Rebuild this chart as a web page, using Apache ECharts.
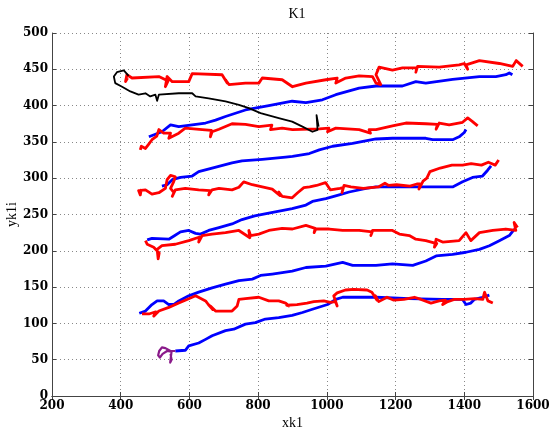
<!DOCTYPE html>
<html><head><meta charset="utf-8">
<script src="https://cdn.jsdelivr.net/npm/echarts@6/dist/echarts.min.js"></script>
<style>html,body{margin:0;padding:0;background:#fff}#c{width:549px;height:433px}</style>
</head><body><div id="c"></div>
<script>
// Axis ticks
const xTicks = [200,400,600,800,1000,1200,1400,1600];
const yTicks = [0,50,100,150,200,250,300,350,400,450,500];

// Blue passes (left to right)
const blue1 = [[559,62],[588,63],[598,69],[627,73],[647,78],[666,83],[705,90],[729,92],[763,99],[792,101],[821,106],[860,108],[899,111],[929,115],[958,119.5],[1002,126],[1026,133],[1046,136],[1143,136],[1240,134],[1337,133],[1395,133],[1405,126],[1419,128],[1429,133],[1453,136],[1473,139]];
const blue2 = [[454,114],[472,117],[491,126],[506,131],[525,131],[540,126],[554,126],[569,131],[598,138],[627,143],[666,149],[705,154],[744,159],[783,161],[807,166],[841,168],[899,172],[939,177],[997,179],[1046,184],[1075,180],[1143,180],[1191,182],[1250,180],[1288,186],[1318,193],[1366,195],[1405,198],[1444,202],[1473,207],[1502,214],[1531,221],[1546,230]];
const blue3 = [[477,215],[491,217],[540,216],[554,220],[574,226],[598,228],[618,224],[632,223],[656,228],[686,232],[724,237],[753,243],[790,248],[831,252],[899,258],[939,263],[958,268],[997,272],[1036,277],[1065,281],[1114,286],[1143,288],[1191,288],[1269,288],[1366,288],[1395,295],[1424,301],[1453,303],[1468,311],[1478,317]];
const blue4 = [[520,289],[535,291],[550,298],[574,301],[608,303],[627,309],[666,314],[724,321],[753,324],[812,326],[880,329],[900,330],[949,334],[978,339],[1017,344],[1075,348],[1143,354],[1191,355],[1288,355],[1308,353],[1366,353],[1385,357],[1400,363],[1405,367]];
const blue5 = [[482,357],[520,364],[545,373.5],[569,371],[608,373.5],[647,376],[676,380],[705,385],[763,394],[831,400],[899,406],[939,404],[987,408],[1026,415],[1094,424],[1143,427],[1220,427],[1259,433],[1288,431],[1366,436],[1444,440],[1492,440],[1521,442.5],[1531,445],[1540,442.5]];

// Red passes (right to left)
const red5 = [[1483,128],[1469,131],[1459,143],[1454,133],[1430,134],[1400,133],[1371,133],[1352,130],[1337,126],[1345,132],[1327,131],[1303,128],[1274,133],[1255,136],[1224,133],[1195,132],[1175,136],[1151,130],[1141,138],[1146,132],[1131,143],[1117,146],[1078,147],[1054,146],[1030,142],[1020,138],[1030,124],[1025,130],[1010,129],[991,131],[962,130],[942,128],[913,126],[883,125],[889,124],[880,128],[860,131],[831,131],[802,136],[763,134],[744,133],[739,124],[724,117],[676,117],[661,124],[668,119],[655,126],[647,131],[618,138],[598,134],[569,128],[540,122],[511,117],[496,110],[502,116],[482,113],[462,113]];
const red4 = [[1555,232],[1545,239],[1550,228],[1521,230],[1483,228],[1444,225],[1419,214],[1405,225],[1385,214],[1337,212],[1318,216],[1313,205],[1320,210],[1288,214],[1259,216],[1240,221],[1211,223],[1191,228],[1133,228],[1128,221],[1132,226],[1094,228],[1046,228],[1007,230],[968,230],[963,225],[966,231],[939,235],[900,230],[870,231],[831,228],[802,223],[778,221],[773,228],[776,218],[744,228],[705,225],[666,223],[637,221],[627,212],[630,219],[598,214],[559,209],[520,207],[506,202],[509,189],[512,197],[496,205],[477,209],[472,214]];
const red3 = [[1500,325],[1490,318],[1470,322],[1450,318],[1420,320],[1395,318],[1364,318],[1330,314],[1300,309],[1291,300],[1280,296],[1268,285],[1272,292],[1262,292],[1242,289],[1203,291],[1180,290],[1169,293],[1150,288],[1106,286],[1070,288],[1050,290],[1044,280],[1048,287],[1038,286],[1010,284],[996,294],[970,290],[950,288],[933,287],[915,280],[899,273],[870,275],[860,281],[864,276],[841,285],[812,288],[783,291],[758,295],[744,287.5],[724,284],[686,286],[666,284],[656,277],[660,283],[627,284],[588,286],[559,284],[550,275],[555,280],[545,286],[554,295],[559,302],[545,304],[535,298],[530,286],[511,280],[491,278],[472,284],[452,283],[457,277],[460,285]];
const red2 = [[1439,372],[1424,378],[1410,383],[1395,377],[1356,373.5],[1327,376],[1318,367.5],[1322,374],[1288,375],[1230,376],[1191,372],[1143,367],[1123,367],[1127,362],[1094,367],[1026,369],[1002,364],[1006,369],[978,368],[900,367],[870,369],[836,367],[840,373],[802,371],[763,374],[724,375],[686,367.5],[666,364],[661,357],[664,366],[637,367],[588,369],[569,362],[540,355],[545,362],[525,362],[511,367],[505,358],[491,353],[480,346],[472,341],[460,344],[457,339]];
const red1 = [[1570,454],[1551,462],[1541,454],[1502,458],[1444,462],[1405,456],[1410,450],[1400,458],[1385,456],[1327,453],[1264,454],[1259,446],[1262,452],[1220,452],[1191,449],[1152,453],[1143,442.5],[1157,429],[1143,431],[1133,440],[1094,441],[1055,438],[1026,431],[1030,438],[997,435.6],[939,431],[900,426],[870,435.6],[812,438],[802,431],[763,431],[715,429],[705,435.6],[710,431],[695,442.5],[608,444],[598,433],[550,433],[535,440],[530,426],[538,434],[511,440],[433,438],[418,442.5],[414,433],[420,438]];

// Black return path
const black = [[423,441],[409,448.5],[389,446],[380,440],[384,431],[404,426],[428,419.5],[452,415],[472,417],[486,412.6],[501,415],[506,406.6],[511,415],[569,417],[608,417],[618,412.6],[656,410],[705,405.7],[744,401],[773,396.5],[807,389.6],[860,382.7],[899,378],[900,379.5],[929,371],[958,364],[973,366.6],[970,387],[976,371]];
// Start tangle (overlapping red/blue)
const purple = [[559,62],[545,62],[530,66],[520,67],[512,62],[509,56],[514,53],[522,58],[535,62],[548,61],[546,54],[544,46],[548,50],[545,58]];

const ser = (d, c, w) => ({type:'line', data:d, showSymbol:false, symbol:'none', lineStyle:{color:c, width:w, join:'round'}, z:2});
const series = [];
[blue1,blue2,blue3,blue4,blue5].forEach(d=>series.push(ser(d,'#0000ff',2.8)));
[red5,red4,red3,red2,red1].forEach(d=>series.push(ser(d,'#ff0000',2.8)));
series.push(ser(black,'#000000',1.8));
series.push(ser(purple,'#8a1a8a',2.2));

const tickFont = {fontFamily:'DejaVu Serif', fontWeight:'bold', fontSize:12, color:'#000', formatter:v=>String(v)};
const axLine = {show:true, lineStyle:{color:'#444', width:1}};
const grid = {type:[1,3], color:'#888', width:1};

const chart = echarts.init(document.getElementById('c'), null, {renderer:'canvas'});
chart.setOption({
  animation:false,
  backgroundColor:'#fff',
  title:{text:'K1', left:292, top:2, textAlign:'center', textStyle:{fontFamily:'Liberation Serif', fontWeight:'normal', fontSize:14, color:'#000'}},
  grid:{left:52, right:16, top:33, bottom:37, containLabel:false, outerBoundsMode:'none'},
  xAxis:[
    {type:'value', min:xTicks[0], max:xTicks[xTicks.length-1], interval:200, position:'bottom',
     axisLine:axLine, axisTick:{show:true, inside:true, length:4, lineStyle:{color:'#444'}},
     axisLabel:Object.assign({margin:4}, tickFont), splitLine:{show:true, lineStyle:grid},
     name:'xk1', nameLocation:'middle', nameGap:20, nameMoveOverlap:false, nameTextStyle:{fontFamily:'Liberation Serif', fontSize:14, color:'#000'}},
    {type:'value', min:200, max:1600, interval:200, position:'top',
     axisLine:axLine, axisTick:{show:true, inside:true, length:4, lineStyle:{color:'#444'}}, axisLabel:{show:false}, splitLine:{show:false}}
  ],
  yAxis:[
    {type:'value', min:yTicks[0], max:yTicks[yTicks.length-1], interval:50, position:'left',
     axisLine:axLine, axisTick:{show:true, inside:true, length:4, lineStyle:{color:'#444'}},
     axisLabel:Object.assign({margin:4}, tickFont), splitLine:{show:true, lineStyle:grid},
     name:'yk1i', nameLocation:'middle', nameGap:33, nameMoveOverlap:false, nameTextStyle:{fontFamily:'Liberation Serif', fontSize:14, color:'#000'}},
    {type:'value', min:0, max:500, interval:50, position:'right',
     axisLine:axLine, axisTick:{show:true, inside:true, length:4, lineStyle:{color:'#444'}}, axisLabel:{show:false}, splitLine:{show:false}}
  ],
  series: series
});
</script></body></html>
